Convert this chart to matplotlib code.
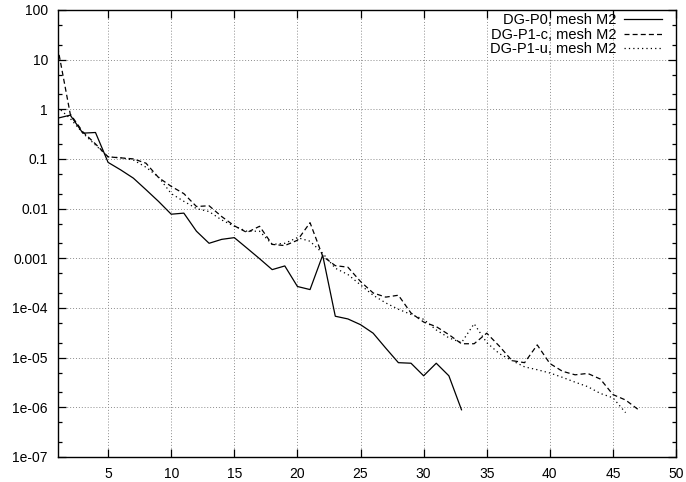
import matplotlib
matplotlib.use('Agg')
import matplotlib.pyplot as plt
import matplotlib.ticker as ticker
import numpy as np

plt.rcParams['font.family'] = ['Liberation Sans', 'DejaVu Sans']

# residual histories
iter_p0 = np.arange(1, 34)
res_p0 = [0.66, 0.76, 0.33, 0.34, 0.085, 0.06, 0.041, 0.024, 0.0139, 0.0077,
          0.0081, 0.0035, 0.0020, 0.0024, 0.0026, 0.0016, 0.00098, 0.00059, 0.0007, 0.00027,
          0.000234, 0.00115, 6.8e-5, 6.0e-5, 4.6e-5, 3.1e-5, 1.55e-5, 7.9e-6, 7.7e-6, 4.3e-6,
          7.7e-6, 4.3e-6, 8.9e-7]

iter_p1c = np.arange(1, 48)
res_p1c = [18., 0.8, 0.35, 0.2, 0.11, 0.105, 0.1, 0.082, 0.042, 0.028,
           0.02, 0.011, 0.0114, 0.0069, 0.0045, 0.0033, 0.0044, 0.0019, 0.0018, 0.0023,
           0.0052, 0.0011, 0.00071, 0.00066, 0.00034, 0.0002, 0.000165, 0.00018, 7.9e-5, 5.2e-5,
           4.2e-5, 2.9e-5, 1.9e-5, 1.9e-5, 3.1e-5, 1.7e-5, 8.7e-6, 7.9e-6, 1.8e-5, 7.6e-6,
           5.3e-6, 4.5e-6, 4.8e-6, 3.7e-6, 1.8e-6, 1.4e-6, 9e-7]

iter_p1u = np.arange(1, 47)
res_p1u = [1.1, 0.65, 0.33, 0.19, 0.11, 0.105, 0.095, 0.068, 0.043, 0.02,
           0.014, 0.010, 0.0087, 0.0059, 0.0044, 0.0035, 0.0035, 0.0019, 0.002, 0.0026,
           0.0022, 0.00126, 0.00063, 0.00047, 0.00029, 0.00018, 0.000126, 9.4e-5, 7.4e-5, 5.9e-5,
           3.6e-5, 2.5e-5, 2.0e-5, 4.8e-5, 2.0e-5, 1.2e-5, 8.7e-6, 6.5e-6, 5.7e-6, 4.9e-6,
           4.0e-6, 3.2e-6, 2.6e-6, 1.9e-6, 1.55e-6, 7.8e-7]

labels = ['DG-P0, mesh M2', 'DG-P1-c, mesh M2', 'DG-P1-u, mesh M2']

x_ticks = [5, 10, 15, 20, 25, 30, 35, 40, 45, 50]
y_ticks = [1e2, 1e1, 1e0, 1e-1, 1e-2, 1e-3, 1e-4, 1e-5, 1e-6, 1e-7]
y_ticklabels = ['100', '10', '1', '0.1', '0.01', '0.001', '1e-04', '1e-05', '1e-06', '1e-07']

fig = plt.figure(figsize=(6.86, 4.82), dpi=100)
ax = fig.add_axes([0.084, 0.052, 0.9015, 0.9275])

lw = 0.9
ax.plot(iter_p0, res_p0, color='black', lw=lw, linestyle='-', label=labels[0])
ax.plot(iter_p1c, res_p1c, color='black', lw=lw, linestyle=(0, (4, 2.5)), label=labels[1])
ax.plot(iter_p1u, res_p1u, color='black', lw=lw, linestyle=(0, (1, 2.5)), label=labels[2])

ax.set_yscale('log')
ax.set_xlim(1, 50)
ax.set_ylim(1e-7, 100)

ax.set_xticks(x_ticks)
ax.set_yticks(y_ticks)
ax.set_yticklabels(y_ticklabels)
ax.yaxis.set_minor_locator(ticker.LogLocator(base=10, subs=(2.0, 5.0), numticks=20))
ax.yaxis.set_minor_formatter(ticker.NullFormatter())

ax.tick_params(which='both', direction='in', top=True, right=True, labelsize=10, width=0.9)
ax.tick_params(which='major', length=6, pad=7)
ax.tick_params(which='minor', length=3)

ax.grid(True, which='major', color='0.55', linestyle=(0, (1, 2)), lw=0.7)
for s in ax.spines.values():
    s.set_linewidth(1.0)

leg = ax.legend(loc='upper right', frameon=False, markerfirst=False, fontsize=10.5,
                handlelength=2.6, handletextpad=0.5, labelspacing=0.05,
                borderaxespad=0.0, borderpad=0.0, bbox_to_anchor=(0.977, 0.993))

plt.savefig('out.png', dpi=100)
plt.close()
